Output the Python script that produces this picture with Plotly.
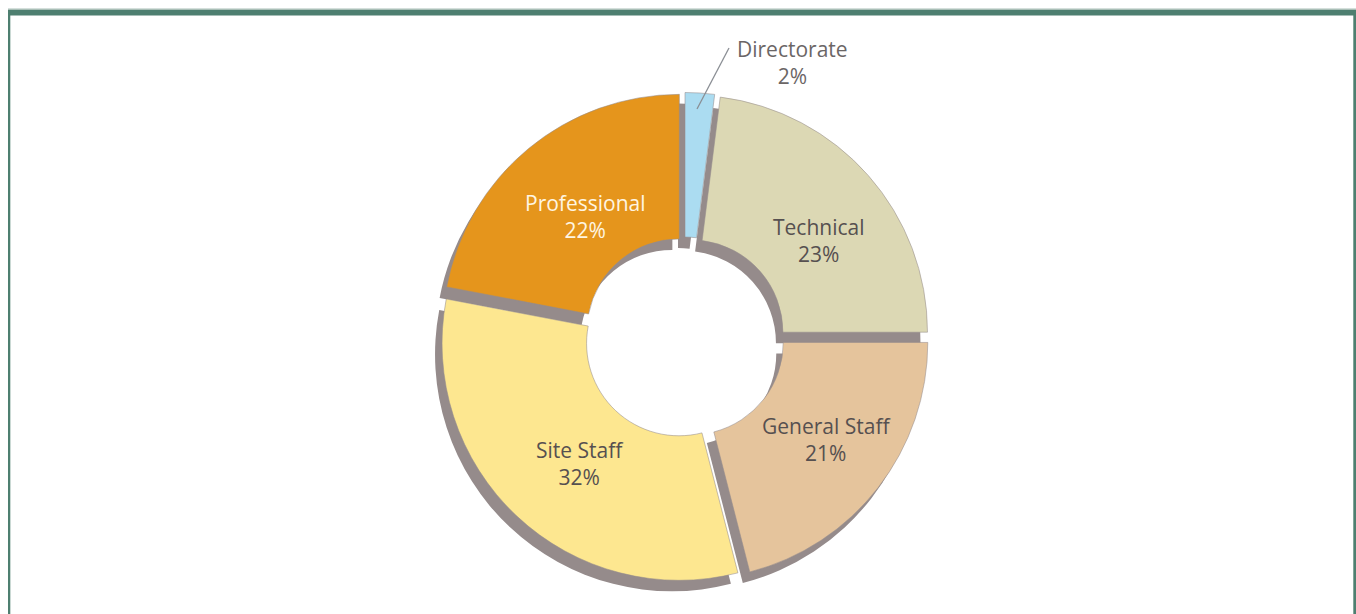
import plotly.graph_objects as go

W, H = 1356, 614

# Staff composition by group (percent)
groups = ["Directorate", "Technical", "General Staff", "Site Staff", "Professional"]
shares = [2, 23, 21, 32, 22]
colors = ["#abdcf1", "#dcd8b4", "#e5c49c", "#fde790", "#e5951c"]
label_colors = ["#6b6666", "#565050", "#565050", "#565050", "#fff5e2"]
pulls = [0.034, 0.034, 0.034, 0.034, 0.034]

# label anchor points in page pixels (x, y from top-left)
label_pos = [(792, 62), (819, 241), (826, 439), (580, 463), (585, 217)]

SHADOW = "#958b8b"
FONT = "Open Sans"


def fx(px):
    return px / W


def fy(py):
    return 1 - py / H


cx, cy, half = 684.5, 337.5, 245
shadow_dx, shadow_dy = -7, 11
hole = 0.39


def domain(dx=0, dy=0):
    return dict(x=[fx(cx - half + dx), fx(cx + half + dx)],
                y=[fy(cy + half + dy), fy(cy - half + dy)])


common = dict(labels=groups, values=shares, sort=False, direction="clockwise",
              rotation=0, hole=hole, pull=pulls, showlegend=False)

fig = go.Figure()

# drop shadow under the ring
fig.add_trace(go.Pie(
    **common,
    domain=domain(shadow_dx, shadow_dy),
    marker=dict(colors=[SHADOW] * len(groups), line=dict(width=0)),
    textinfo="none", hoverinfo="skip",
))

# coloured ring
fig.add_trace(go.Pie(
    **common,
    domain=domain(),
    marker=dict(colors=colors, line=dict(color="rgba(150,140,140,0.55)", width=1)),
    textinfo="none",
    hoverinfo="label+percent",
))

# group labels with their shares
for name, share, col, (px, py) in zip(groups, shares, label_colors, label_pos):
    fig.add_annotation(
        x=fx(px), y=fy(py), xref="paper", yref="paper",
        xanchor="center", yanchor="middle",
        text=f"{name}<br>{share}%", showarrow=False,
        font=dict(family=FONT, size=21, color=col),
    )

frame = "#4e7f70"
shapes = [
    # leader line for the smallest group
    dict(type="line", xref="paper", yref="paper",
         x0=fx(697), y0=fy(109), x1=fx(729), y1=fy(48),
         line=dict(color="#8a8e94", width=1.3)),
    dict(type="rect", xref="paper", yref="paper",
         x0=fx(8), x1=1, y0=fy(10), y1=fy(8.5),
         fillcolor="#a9bfb7", line=dict(width=0)),
    dict(type="rect", xref="paper", yref="paper",
         x0=fx(8), x1=1, y0=fy(15.5), y1=fy(10),
         fillcolor=frame, line=dict(width=0)),
    dict(type="rect", xref="paper", yref="paper",
         x0=fx(8), x1=fx(10.3), y0=0, y1=fy(10),
         fillcolor=frame, line=dict(width=0)),
    dict(type="rect", xref="paper", yref="paper",
         x0=fx(1353.3), x1=1, y0=0, y1=fy(10),
         fillcolor=frame, line=dict(width=0)),
]

fig.update_layout(
    width=W, height=H,
    margin=dict(l=0, r=0, t=0, b=0),
    paper_bgcolor="white", plot_bgcolor="white",
    shapes=shapes,
    font=dict(family=FONT),
)

fig.write_html("out.html")
